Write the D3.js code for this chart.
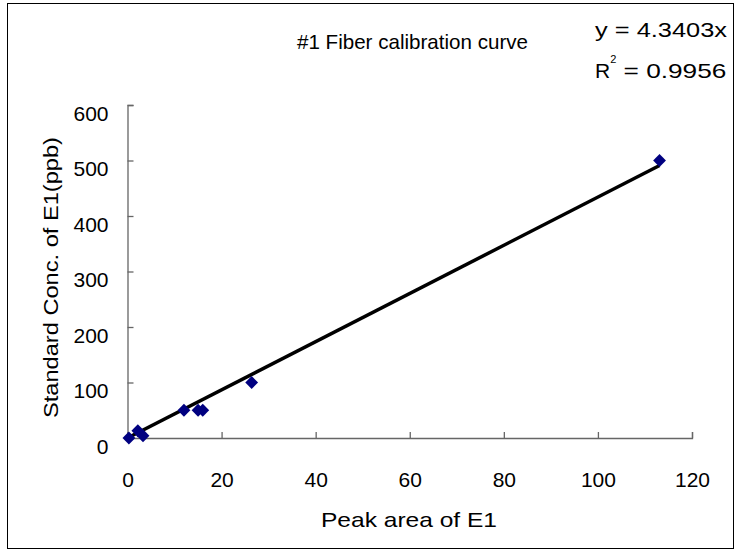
<!DOCTYPE html>
<html>
<head>
<meta charset="utf-8">
<script src="https://cdn.jsdelivr.net/npm/d3@7"></script>
<style>
  body { margin: 0; background: #fff; }
  svg text { font-family: "Liberation Sans", Arial, sans-serif; fill: #000; }
</style>
</head>
<body>
<div class="chart"></div>
<script>
// data
var peakArea = [0.3, 2.2, 3.3, 12, 15, 16, 26.4, 113.1];
var stdConc = [0, 13, 4, 50, 50, 50, 100, 500];
var slope = 4.3403;
var xTicks = [0, 20, 40, 60, 80, 100, 120];
var yTicks = [0, 100, 200, 300, 400, 500, 600];

var svgWidth = 736;
var svgHeight = 553;
var margin = { top: 105, right: 44, bottom: 115, left: 127.5 };
var width = svgWidth - margin.left - margin.right;
var height = svgHeight - margin.top - margin.bottom;

var svg = d3.select(".chart").append("svg")
  .attr("width", svgWidth)
  .attr("height", svgHeight);

// outer frame
svg.append("rect")
  .attr("x", 7.5).attr("y", 3.5)
  .attr("width", 726).attr("height", 545)
  .attr("fill", "none").attr("stroke", "#000").attr("stroke-width", 1);

var chart = svg.append("g")
  .attr("transform", "translate(" + margin.left + "," + margin.top + ")");

var x = d3.scaleLinear().domain([0, 120]).range([0, width]);
var y = d3.scaleLinear().domain([0, 600]).range([height, 0]);

var xAxis = d3.axisBottom(x).tickValues(xTicks).tickSizeInner(-6).tickSizeOuter(-6).tickPadding(0);
var yAxis = d3.axisLeft(y).tickValues(yTicks).tickSizeInner(-6).tickSizeOuter(-6).tickPadding(0);

var gx = chart.append("g").attr("transform", "translate(0," + height + ")").call(xAxis);
var gy = chart.append("g").call(yAxis);
[gx, gy].forEach(function(g) {
  g.selectAll("path, line").attr("stroke", "#666").attr("stroke-width", 1.3);
  g.selectAll("text").style("font-size", "21px").attr("fill", "#000");
});
gx.selectAll("text").attr("y", 49).attr("dy", null);
gy.selectAll("text").attr("x", -19).attr("dy", null).attr("y", 15);

// trend line
var xEnd = d3.max(peakArea);
chart.append("line")
  .attr("x1", x(0)).attr("y1", y(0))
  .attr("x2", x(xEnd)).attr("y2", y(slope * xEnd))
  .attr("stroke", "#000").attr("stroke-width", 3.5);

// points
chart.selectAll(".pt")
  .data(peakArea)
  .enter()
  .append("path")
  .attr("class", "pt")
  .attr("d", d3.symbol().type(d3.symbolDiamond2).size(105))
  .attr("transform", function(d, i) {
    return "translate(" + x(d) + "," + y(stdConc[i]) + ")";
  })
  .attr("fill", "#000080");

// titles
svg.append("text")
  .attr("x", 297).attr("y", 49)
  .attr("textLength", 231).attr("lengthAdjust", "spacingAndGlyphs")
  .style("font-size", "21px")
  .text("#1 Fiber calibration curve");

svg.append("text")
  .attr("x", 595).attr("y", 37)
  .attr("textLength", 132).attr("lengthAdjust", "spacingAndGlyphs")
  .style("font-size", "21px")
  .text("y = 4.3403x");

var r2 = svg.append("text")
  .attr("x", 595).attr("y", 78)
  .style("font-size", "21px");
r2.append("tspan").text("R");
r2.append("tspan").attr("dx", 0).attr("dy", -15).style("font-size", "11px").text("2");
r2.append("tspan").attr("dx", 0).attr("dy", 15).attr("textLength", 110).attr("lengthAdjust", "spacingAndGlyphs").text(" = 0.9956");

svg.append("text")
  .attr("x", 321).attr("y", 527)
  .attr("textLength", 176).attr("lengthAdjust", "spacingAndGlyphs")
  .style("font-size", "21px")
  .text("Peak area of E1");

svg.append("text")
  .attr("transform", "translate(58,418) rotate(-90)")
  .attr("textLength", 281).attr("lengthAdjust", "spacingAndGlyphs")
  .style("font-size", "21px")
  .text("Standard Conc. of E1(ppb)");
</script>
</body>
</html>
